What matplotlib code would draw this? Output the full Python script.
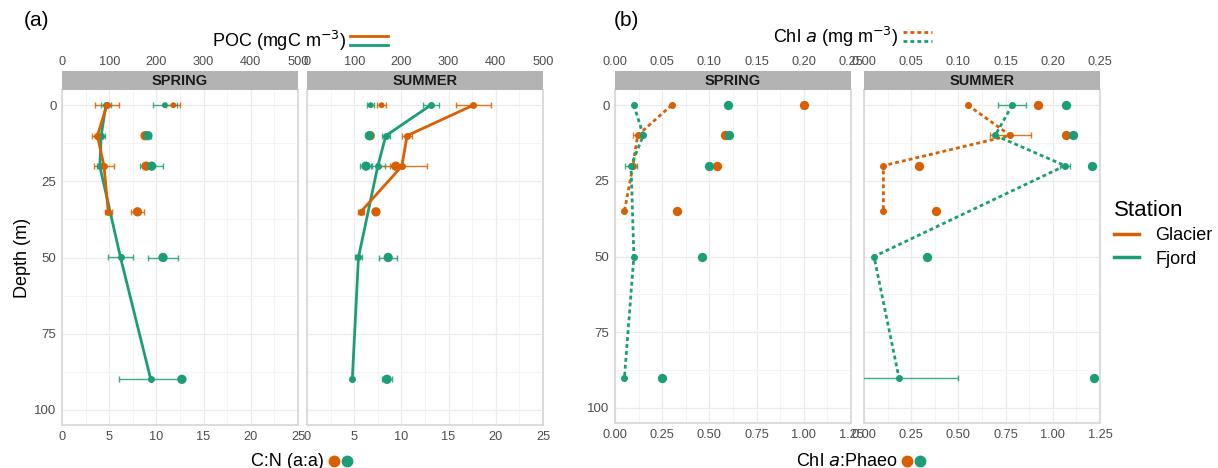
import matplotlib.pyplot as plt
from matplotlib.lines import Line2D
from matplotlib.ticker import MultipleLocator

plt.rcParams['font.family'] = ['Liberation Sans', 'DejaVu Sans']

W, H = 1218, 468
ORANGE = '#D95F02'
GREEN = '#1B9E77'

# ---- data ----
depth_glacier = [0, 10, 20, 35]
depth_fjord = [0, 10, 20, 50, 90]

# POC (mgC m-3), mean and sd
poc_spring_glacier = [95, 75, 89, 98]
poc_spring_glacier_sd = [25, 12, 22, 7]
poc_spring_fjord = [93, 83, 80, 124, 188]
poc_spring_fjord_sd = [11, 8, 6, 26, 67]
poc_summer_glacier = [352, 212, 201, 114]
poc_summer_glacier_sd = [37, 11, 54, 6]
poc_summer_fjord = [262, 167, 150, 109, 96]
poc_summer_fjord_sd = [17, 9, 15, 8, 0]

# C:N (a:a)
cn_spring_glacier = [11.8, 8.8, 8.9, 8.0]
cn_spring_glacier_sd = [0.75, 0.3, 0.3, 0.67]
cn_spring_fjord = [10.9, 9.1, 9.5, 10.7, 12.7]
cn_spring_fjord_sd = [1.3, 0.3, 1.2, 1.6, 0]
cn_summer_glacier = [7.9, 6.7, 9.4, 7.3]
cn_summer_glacier_sd = [0.5, 0, 0.6, 0.2]
cn_summer_fjord = [6.75, 6.6, 6.25, 8.6, 8.47]
cn_summer_fjord_sd = [0.35, 0, 0.65, 0.95, 0.55]

# Chl a (mg m-3)
chl_spring_glacier = [0.060, 0.024, 0.019, 0.010]
chl_spring_glacier_sd = [0, 0.0045, 0, 0]
chl_spring_fjord = [0.020, 0.030, 0.017, 0.020, 0.010]
chl_spring_fjord_sd = [0, 0, 0.006, 0, 0]
chl_summer_glacier = [0.110, 0.155, 0.0205, 0.0205]
chl_summer_glacier_sd = [0, 0.022, 0, 0]
chl_summer_fjord = [0.157, 0.139, 0.213, 0.0106, 0.037]
chl_summer_fjord_sd = [0.015, 0, 0.005, 0, 0.063]

# Chl a:Phaeo
cp_spring_glacier = [1.00, 0.58, 0.54, 0.33]
cp_spring_fjord = [0.60, 0.605, 0.50, 0.46, 0.25]
cp_summer_glacier = [0.92, 1.07, 0.29, 0.38]
cp_summer_fjord = [1.07, 1.105, 1.21, 0.335, 1.22]

fig = plt.figure(figsize=(W / 100, H / 100), dpi=100)


def px(x, y):
    return x / W, 1 - y / H


STRIP_H = 19


def make_panel(left, right, top, bottom, season, xmax_bot, xmax_top, bot_step, top_step,
               show_y, bot_fmt, top_fmt):
    # top = top of the grey strip; the plotting area starts below it
    ptop = top + STRIP_H
    x0, y0 = px(left, bottom)
    ax = fig.add_axes([x0, y0, (right - left) / W, (bottom - ptop) / H])
    ax.set_xlim(0, xmax_bot)
    ax.set_ylim(105, -5)
    ax.set_yticks([0, 25, 50, 75, 100])
    ax.yaxis.set_minor_locator(MultipleLocator(12.5))
    ax.xaxis.set_major_locator(MultipleLocator(bot_step))
    ax.xaxis.set_minor_locator(MultipleLocator(bot_step / 2))
    ax.xaxis.set_major_formatter(bot_fmt)
    ax.grid(which='major', color='#EBEBEB', lw=0.9)
    ax.grid(which='minor', color='#F3F3F3', lw=0.6)
    ax.set_axisbelow(True)
    ax.tick_params(which='both', length=0, labelsize=9.2, labelcolor='#4D4D4D', pad=4)
    ax.tick_params(axis='y', labelsize=9.5)
    if not show_y:
        ax.tick_params(axis='y', labelleft=False)
    for s in ['left', 'right', 'bottom']:
        ax.spines[s].set_color('#D9D9D9')
        ax.spines[s].set_linewidth(1.3)
    ax.spines['top'].set_visible(False)

    axt = ax.twiny()
    axt.set_xlim(0, xmax_top)
    axt.xaxis.set_major_locator(MultipleLocator(top_step))
    axt.xaxis.set_major_formatter(top_fmt)
    axt.tick_params(which='both', length=0, labelsize=9.2, labelcolor='#4D4D4D', pad=15.5)
    for s in axt.spines.values():
        s.set_visible(False)

    # strip
    sx, sy = px(left, ptop)
    strip = fig.add_axes([sx, sy, (right - left) / W, STRIP_H / H])
    strip.set_facecolor('#B3B3B3')
    strip.set_xticks([])
    strip.set_yticks([])
    for s in strip.spines.values():
        s.set_visible(False)
    strip.text(0.5, 0.45, season, ha='center', va='center', fontsize=10.5,
               fontweight='bold', color='#1A1A1A')
    return ax, axt


fmt_int = lambda v, p: f'{v:g}'
fmt_2 = lambda v, p: f'{v:.2f}'

# ---------- panel (a) ----------
a_spring, a_spring_t = make_panel(62, 298, 71, 425, 'SPRING', 25, 500, 5, 100, True, fmt_int, fmt_int)
a_summer, a_summer_t = make_panel(307, 543, 71, 425, 'SUMMER', 25, 500, 5, 100, False, fmt_int, fmt_int)


def draw_a(ax, axt, poc_g, poc_g_sd, poc_f, poc_f_sd, cn_g, cn_g_sd, cn_f, cn_f_sd):
    for d, v, sd, c in [(depth_glacier, cn_g, cn_g_sd, ORANGE), (depth_fjord, cn_f, cn_f_sd, GREEN)]:
        ax.errorbar(v, d, xerr=sd, fmt='none', ecolor=c, elinewidth=1, capsize=2, alpha=0.85, zorder=3)
        sizes = [18 if dd == 0 else 45 for dd in d]
        ax.scatter(v, d, s=sizes, color=c, zorder=4, linewidths=0)
    for d, v, sd, c in [(depth_fjord, poc_f, poc_f_sd, GREEN), (depth_glacier, poc_g, poc_g_sd, ORANGE)]:
        axt.errorbar(v, d, xerr=sd, fmt='none', ecolor=c, elinewidth=1, capsize=2, alpha=0.85, zorder=3)
        axt.plot(v, d, color=c, lw=2, marker='o', ms=4, zorder=4)


draw_a(a_spring, a_spring_t, poc_spring_glacier, poc_spring_glacier_sd, poc_spring_fjord,
       poc_spring_fjord_sd, cn_spring_glacier, cn_spring_glacier_sd, cn_spring_fjord, cn_spring_fjord_sd)
draw_a(a_summer, a_summer_t, poc_summer_glacier, poc_summer_glacier_sd, poc_summer_fjord,
       poc_summer_fjord_sd, cn_summer_glacier, cn_summer_glacier_sd, cn_summer_fjord, cn_summer_fjord_sd)
a_spring.set_ylabel('Depth (m)', fontsize=13, labelpad=2)

# ---------- panel (b) ----------
b_spring, b_spring_t = make_panel(615, 851, 71, 423, 'SPRING', 1.25, 0.25, 0.25, 0.05, True, fmt_2, fmt_2)
b_summer, b_summer_t = make_panel(864, 1100, 71, 423, 'SUMMER', 1.25, 0.25, 0.25, 0.05, False, fmt_2, fmt_2)


def draw_b(ax, axt, chl_g, chl_g_sd, chl_f, chl_f_sd, cp_g, cp_f):
    for d, v, c in [(depth_glacier, cp_g, ORANGE), (depth_fjord, cp_f, GREEN)]:
        ax.scatter(v, d, s=45, color=c, zorder=4, linewidths=0)
    for d, v, sd, c in [(depth_glacier, chl_g, chl_g_sd, ORANGE), (depth_fjord, chl_f, chl_f_sd, GREEN)]:
        axt.errorbar(v, d, xerr=sd, fmt='none', ecolor=c, elinewidth=1, capsize=2, alpha=0.85, zorder=3)
        axt.plot(v, d, color=c, lw=2, ls=(0, (1.4, 1.1)), marker='o', ms=4, zorder=4)


draw_b(b_spring, b_spring_t, chl_spring_glacier, chl_spring_glacier_sd, chl_spring_fjord,
       chl_spring_fjord_sd, cp_spring_glacier, cp_spring_fjord)
draw_b(b_summer, b_summer_t, chl_summer_glacier, chl_summer_glacier_sd, chl_summer_fjord,
       chl_summer_fjord_sd, cp_summer_glacier, cp_summer_fjord)

# ---------- annotations / legends ----------
fig.text(*px(24, 20), '(a)', fontsize=15, va='center')
fig.text(*px(614, 20), '(b)', fontsize=15, va='center')

fig.text(*px(346, 41), 'POC (mgC m$^{-3}$)', fontsize=13, ha='right', va='center')
for yy, c in [(36, ORANGE), (45, GREEN)]:
    (x1, y1), (x2, _) = px(350, yy), px(388, yy)
    fig.add_artist(Line2D([x1, x2], [y1, y1], color=c, lw=2, transform=fig.transFigure))

fig.text(*px(324, 461), 'C:N (a:a)', fontsize=13, ha='right', va='center')
for xx, c in [(334, ORANGE), (347, GREEN)]:
    fig.add_artist(Line2D([px(xx, 0)[0]], [px(0, 461)[1]], marker='o', ms=7.5, color=c,
                          lw=0, transform=fig.transFigure))

fig.text(*px(898, 37), 'Chl $\\it{a}$ (mg m$^{-3}$)', fontsize=13, ha='right', va='center')
for yy, c in [(32, ORANGE), (41, GREEN)]:
    (x1, y1), (x2, _) = px(903, yy), px(932, yy)
    fig.add_artist(Line2D([x1, x2], [y1, y1], color=c, lw=2, ls=(0, (1.4, 1.1)),
                          transform=fig.transFigure))

fig.text(*px(897, 461), 'Chl $\\it{a}$:Phaeo', fontsize=13, ha='right', va='center')
for xx, c in [(907, ORANGE), (920, GREEN)]:
    fig.add_artist(Line2D([px(xx, 0)[0]], [px(0, 461)[1]], marker='o', ms=7.5, color=c,
                          lw=0, transform=fig.transFigure))

handles = [Line2D([], [], color=ORANGE, lw=2.5), Line2D([], [], color=GREEN, lw=2.5)]
leg = fig.legend(handles, ['Glacier', 'Fjord'], title='Station', loc='upper left',
                 bbox_to_anchor=px(1114, 200), borderaxespad=0, borderpad=0, frameon=False,
                 fontsize=13, title_fontsize=16, handlelength=1.4, handletextpad=0.9,
                 labelspacing=0.35)
leg._legend_box.align = 'left'

fig.savefig('out.png', dpi=100)
